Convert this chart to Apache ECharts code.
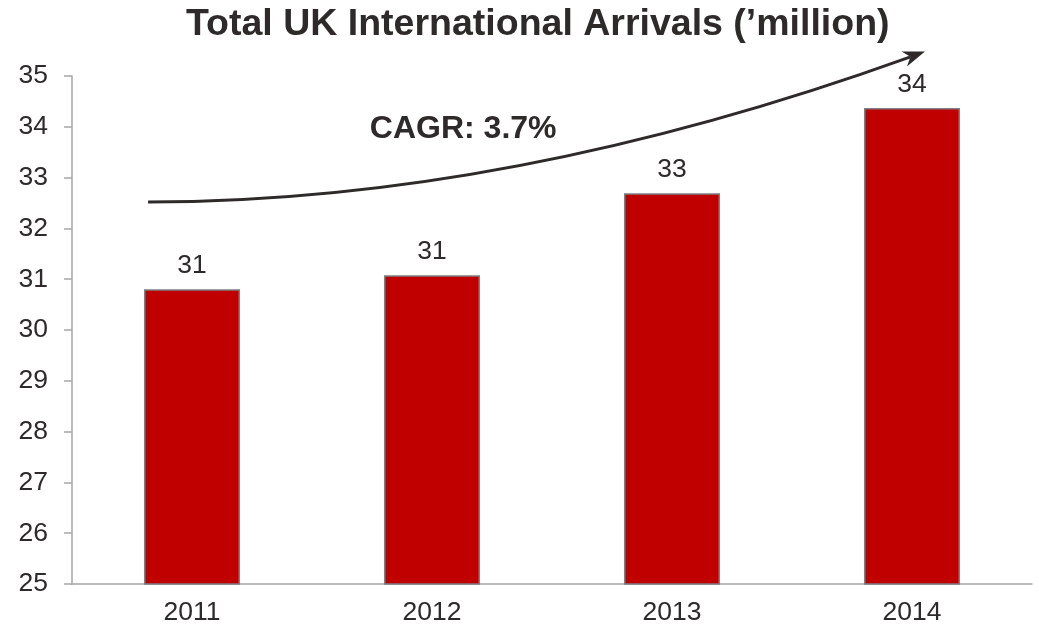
<!DOCTYPE html>
<html>
<head>
<meta charset="utf-8">
<script src="https://cdn.jsdelivr.net/npm/echarts@6/dist/echarts.min.js"></script>
<style>
  html, body { margin: 0; padding: 0; background: #fff; }
  #chart { width: 1039px; height: 636px; }
</style>
</head>
<body>
<div id="chart"></div>
<script>
const years = ["2011", "2012", "2013", "2014"];
const arrivals = [30.8, 31.08, 32.69, 34.37];
const yTicks = { min: 25, max: 35, interval: 1 };
const cagrText = "CAGR: 3.7%";
// arrow annotation in data space: [category index, value]
const arrowStart = [-0.183, 32.52];
const arrowControl = [1.317, 32.52];
const arrowEnd = [3.054, 35.48];
const cagrPos = [1.13, 33.95];

const TEXT = "#2e2a2a";
const FONT = "Liberation Sans, Arial, sans-serif";

const chart = echarts.init(document.getElementById("chart"));

chart.setOption({
  animation: false,
  title: {
    text: "Total UK International Arrivals (\u2019million)",
    left: 181,
    top: 1,
    textStyle: { fontFamily: FONT, fontSize: 37.5, fontWeight: "bold", color: TEXT },
  },
  grid: { left: 72, right: 7, top: 76, bottom: 52 },
  xAxis: {
    type: "category",
    data: years,
    axisLine: { lineStyle: { color: "#a6a6a6", width: 1.5 } },
    axisTick: { length: 8, lineStyle: { color: "#a6a6a6", width: 1.5 } },
    axisLabel: { fontFamily: FONT, fontSize: 26.5, color: TEXT, margin: 15 },
  },
  yAxis: {
    type: "value",
    min: yTicks.min,
    max: yTicks.max,
    interval: yTicks.interval,
    splitLine: { show: false },
    axisLine: { show: true, lineStyle: { color: "#a6a6a6", width: 1.5 } },
    axisTick: { show: true, length: 8, lineStyle: { color: "#a6a6a6", width: 1.5 } },
    axisLabel: { fontFamily: FONT, fontSize: 26.5, color: TEXT, margin: 24 },
  },
  series: [{
    type: "bar",
    data: arrivals,
    barWidth: "40%",
    itemStyle: { color: "#c00000", borderColor: "#7f7f7f", borderWidth: 1.5 },
    label: {
      show: true,
      position: "top",
      distance: 10,
      fontFamily: FONT,
      fontSize: 26.5,
      color: TEXT,
      formatter: (p) => String(Math.round(p.value)),
    },
  }],
});

function toPx(pt) {
  const c0 = chart.convertToPixel({ xAxisIndex: 0 }, 0);
  const c1 = chart.convertToPixel({ xAxisIndex: 0 }, 1);
  const x = c0 + (c1 - c0) * pt[0];
  const y = chart.convertToPixel({ yAxisIndex: 0 }, pt[1]);
  return [x, y];
}

const s = toPx(arrowStart);
const c = toPx(arrowControl);
const e = toPx(arrowEnd);
const ang = Math.atan2(e[1] - c[1], e[0] - c[0]);
const headLen = 22, headW = 8;
const back = [e[0] - headLen * Math.cos(ang), e[1] - headLen * Math.sin(ang)];
const notch = [e[0] - headLen * 0.7 * Math.cos(ang), e[1] - headLen * 0.7 * Math.sin(ang)];
const nx = -Math.sin(ang), ny = Math.cos(ang);
const cp = toPx(cagrPos);

chart.setOption({
  graphic: [
    {
      type: "bezierCurve",
      shape: { x1: s[0], y1: s[1], x2: notch[0], y2: notch[1], cpx1: c[0], cpy1: c[1] },
      style: { stroke: TEXT, lineWidth: 3, fill: null },
    },
    {
      type: "polygon",
      shape: { points: [e, [back[0] + nx * headW, back[1] + ny * headW], notch, [back[0] - nx * headW, back[1] - ny * headW]] },
      style: { fill: TEXT },
    },
    {
      type: "text",
      x: cp[0],
      y: cp[1],
      style: { text: cagrText, fontFamily: FONT, fontSize: 32, fontWeight: "bold", fill: TEXT, align: "center", verticalAlign: "middle" },
    },
  ],
});
</script>
</body>
</html>
